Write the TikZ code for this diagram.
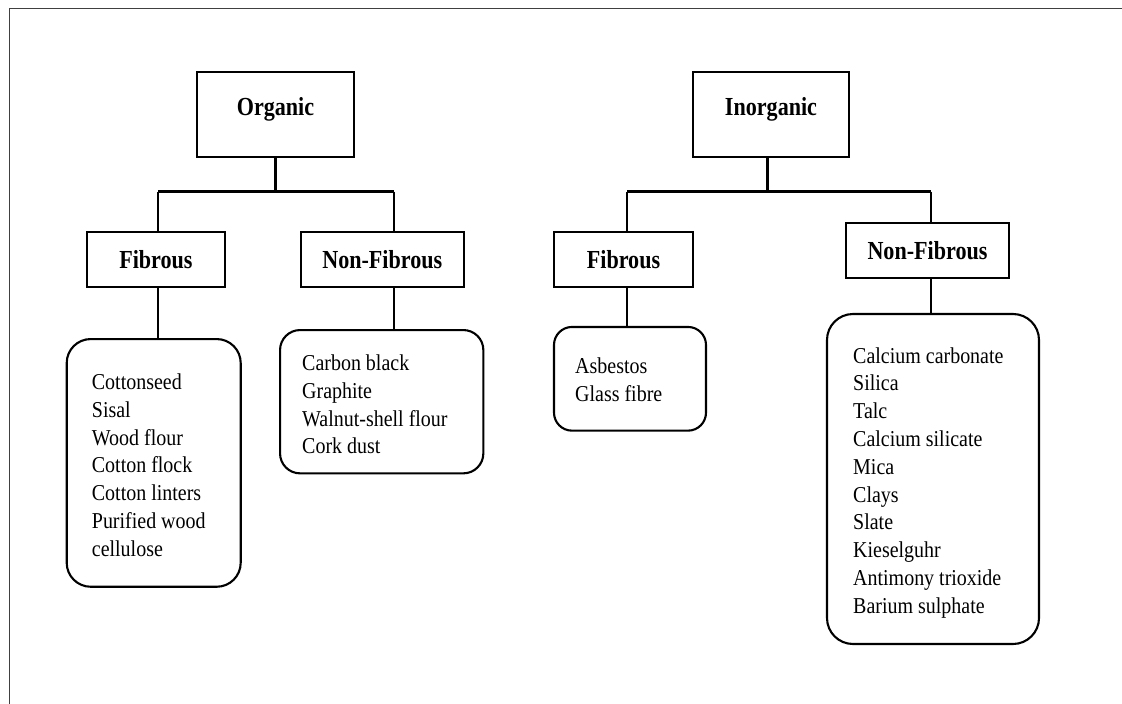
\documentclass[tikz,border=0pt]{standalone}
\usepackage{fontspec}
\newfontfamily\headfam{Liberation Serif}[FakeStretch=0.85]
\newfontfamily\listfam{Liberation Serif}[FakeStretch=0.88]
\begin{document}
\begin{tikzpicture}[x=1pt,y=-1pt,
  hbox/.style={draw, line width=2.1pt, inner sep=0pt, text height=17.7pt, text depth=0pt,
    font=\headfam\bfseries\fontsize{26}{30}\selectfont},
  topbox/.style={hbox, text depth=17pt},
  listbox/.style={draw, line width=2.1pt, inner sep=0pt},
  listtxt/.style={inner sep=0pt, anchor=north west, align=left,
    font=\listfam\fontsize{22.7}{27.8}\selectfont},
  conn/.style={line width=2.1pt},
  frame/.style={draw=black!75, line width=1.2pt}]
\useasboundingbox (0,0) rectangle (1122,704);
\draw[frame] (9.5,704) -- (9.5,8.5) -- (1122,8.5);

% top level
\node[topbox, minimum width=157pt, minimum height=85pt] (org) at (275.5,114.7) {Organic};
\node[topbox, minimum width=156.6pt, minimum height=85pt] (inorg) at (771,114.8) {Inorganic};

% second level
\node[hbox, minimum width=138.3pt, minimum height=55pt] (ofib) at (155.9,259.2) {Fibrous};
\node[hbox, minimum width=163.3pt, minimum height=55pt] (onf) at (382.3,259.2) {Non-Fibrous};
\node[hbox, minimum width=139pt, minimum height=55pt] (ifib) at (623.5,259.2) {Fibrous};
\node[hbox, minimum width=163pt, minimum height=55.3pt] (inf) at (927.5,250.4) {Non-Fibrous};

% list boxes
\node[listbox, rounded corners=24pt, minimum width=174pt, minimum height=247.7pt] (ofl) at (153.7,462.9) {};
\node[listbox, rounded corners=20pt, minimum width=203.3pt, minimum height=143.3pt] (onfl) at (381.7,401.7) {};
\node[listbox, rounded corners=18pt, minimum width=152pt, minimum height=103.7pt] (ifl) at (630,378.8) {};
\node[listbox, rounded corners=26pt, minimum width=212pt, minimum height=330pt] (infl) at (933,479) {};

\node[listtxt] (oflt) at (91.7,373.5) {Cottonseed\\Sisal\\Wood flour\\Cotton flock\\Cotton linters\\Purified wood\\cellulose};
\node[listtxt] (onflt) at (302,354.5) {Carbon black\\Graphite\\Walnut-shell flour\\Cork dust};
\node[listtxt] (iflt) at (575,357.5) {Asbestos\\Glass fibre};
\node[listtxt] (inflt) at (853,347.2) {Calcium carbonate\\Silica\\Talc\\Calcium silicate\\Mica\\Clays\\Slate\\Kieselguhr\\Antimony trioxide\\Barium sulphate};

% connector coordinates
\coordinate (oT) at (275.5,191.5);
\coordinate (oL) at (158,191.5);
\coordinate (oR) at (394,191.5);
\coordinate (iT) at (767.5,191.5);
\coordinate (iL) at (627,191.5);
\coordinate (iR) at (931,191.5);

% organic connectors
\draw[conn] (org.south) -- (oT);
\draw[conn] (oL) -- (oR);
\draw[conn] (oL) -- (oL |- ofib.north);
\draw[conn] (oR) -- (oR |- onf.north);
\draw[conn] (ofib.south -| oL) -- (oL |- ofl.north);
\draw[conn] (onf.south -| oR) -- (oR |- onfl.north);

% inorganic connectors
\draw[conn] (inorg.south -| iT) -- (iT);
\draw[conn] (iL) -- (iR);
\draw[conn] (iL) -- (iL |- ifib.north);
\draw[conn] (iR) -- (iR |- inf.north);
\draw[conn] (ifib.south -| iL) -- (iL |- ifl.north);
\draw[conn] (inf.south -| iR) -- (iR |- infl.north);
\end{tikzpicture}
\end{document}
